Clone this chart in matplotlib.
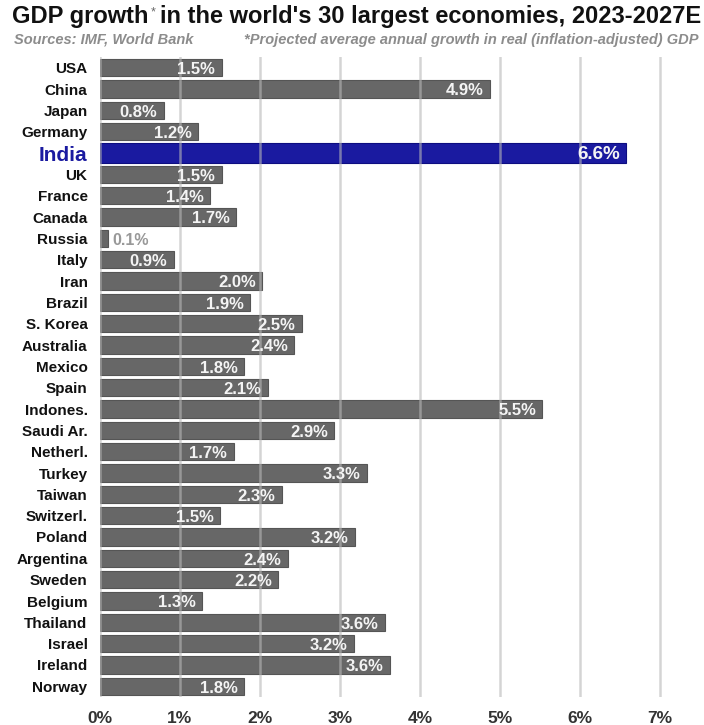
import matplotlib
matplotlib.use("Agg")
import matplotlib.pyplot as plt

plt.rcParams["font.family"] = ["Liberation Sans", "DejaVu Sans"]

countries = ["USA", "China", "Japan", "Germany", "India", "UK", "France", "Canada", "Russia", "Italy",
             "Iran", "Brazil", "S. Korea", "Australia", "Mexico", "Spain", "Indones.", "Saudi Ar.",
             "Netherl.", "Turkey", "Taiwan", "Switzerl.", "Poland", "Argentina", "Sweden", "Belgium",
             "Thailand", "Israel", "Ireland", "Norway"]
growth = [1.5, 4.9, 0.8, 1.2, 6.6, 1.5, 1.4, 1.7, 0.1, 0.9,
          2.0, 1.9, 2.5, 2.4, 1.8, 2.1, 5.5, 2.9,
          1.7, 3.3, 2.3, 1.5, 3.2, 2.4, 2.2, 1.3,
          3.6, 3.2, 3.6, 1.8]
# actual drawn lengths (labels are rounded)
lengths = [1.52, 4.88, 0.80, 1.23, 6.58, 1.52, 1.38, 1.70, 0.10, 0.92,
           2.03, 1.88, 2.52, 2.43, 1.80, 2.10, 5.53, 2.93,
           1.67, 3.34, 2.27, 1.50, 3.19, 2.35, 2.23, 1.28,
           3.56, 3.17, 3.63, 1.80]
xticks = [0, 1, 2, 3, 4, 5, 6, 7]

fig = plt.figure(figsize=(7.04, 7.25), dpi=100)
ax = fig.add_axes([100/704, 1 - 697/725, 600/704, (697-57)/725])

n = len(countries)
ys = list(range(n))
for i, (c, v, L) in enumerate(zip(countries, growth, lengths)):
    india = c == "India"
    color = "#1a1aa0" if india else "#676767"
    ec = "#0d0d80" if india else "#555555"
    h = 0.9 if india else 0.8
    ax.barh(i, L, height=h, color=color, edgecolor=ec, linewidth=0.8, zorder=2)
    lab = f"{v:.1f}%"
    if L < 0.3:
        ax.text(L + 0.05, i + 0.08, lab, ha="left", va="center", color="#999999",
                fontsize=11.5, fontweight="bold", zorder=4)
    else:
        ax.text(L - 0.08, i + 0.08, lab, ha="right", va="center", color="#f4f4f4",
                fontsize=13.5 if india else 12, fontweight="bold", zorder=4)

ax.set_ylim(n - 0.5, -0.5)
ax.set_xlim(0, 7.5)
ax.set_xticks(xticks)
ax.set_xticklabels([f"{t}%" for t in xticks], fontsize=12.5, fontweight="bold", color="#333333")
ax.set_yticks(ys)
ax.set_yticklabels(countries)
for lbl, c in zip(ax.get_yticklabels(), countries):
    if c == "India":
        lbl.set_color("#1a1aa0")
        lbl.set_fontsize(15)
        lbl.set_fontweight("bold")
    else:
        lbl.set_color("#111111")
        lbl.set_fontsize(11)
        lbl.set_fontweight("bold")
ax.tick_params(axis="both", length=0)
ax.tick_params(axis="y", pad=9)
ax.tick_params(axis="x", pad=10)
for s in ax.spines.values():
    s.set_visible(False)
for t in xticks:
    ax.axvline(t, color="#b8b8b8", linewidth=1.8, alpha=0.6, zorder=3)

fig.canvas.draw()
r = fig.canvas.get_renderer()
t1 = fig.text(12/704, 1 - 17/725, "GDP growth", fontsize=17, fontweight="bold", color="#111111", va="center")
bb = t1.get_window_extent(r)
x1 = bb.x1 / fig.bbox.width
t2 = fig.text(x1 + 2/704, 1 - 12/725, "*", fontsize=9, color="#666666", va="center")
bb2 = t2.get_window_extent(r)
x2 = bb2.x1 / fig.bbox.width
fig.text(x2 + 5/704, 1 - 17/725, "in the world's 30 largest economies, 2023-2027E", fontsize=17,
         fontweight="bold", color="#111111", va="center")
fig.text(14/704, 1 - 40/725, "Sources: IMF, World Bank", fontsize=10.5, fontstyle="italic",
         fontweight="bold", color="#8c8c8c", va="center")
fig.text(698/704, 1 - 40/725, "*Projected average annual growth in real (inflation-adjusted) GDP", fontsize=10.5,
         fontstyle="italic", fontweight="bold", color="#8c8c8c", va="center", ha="right")

fig.savefig("out.png", dpi=100)
